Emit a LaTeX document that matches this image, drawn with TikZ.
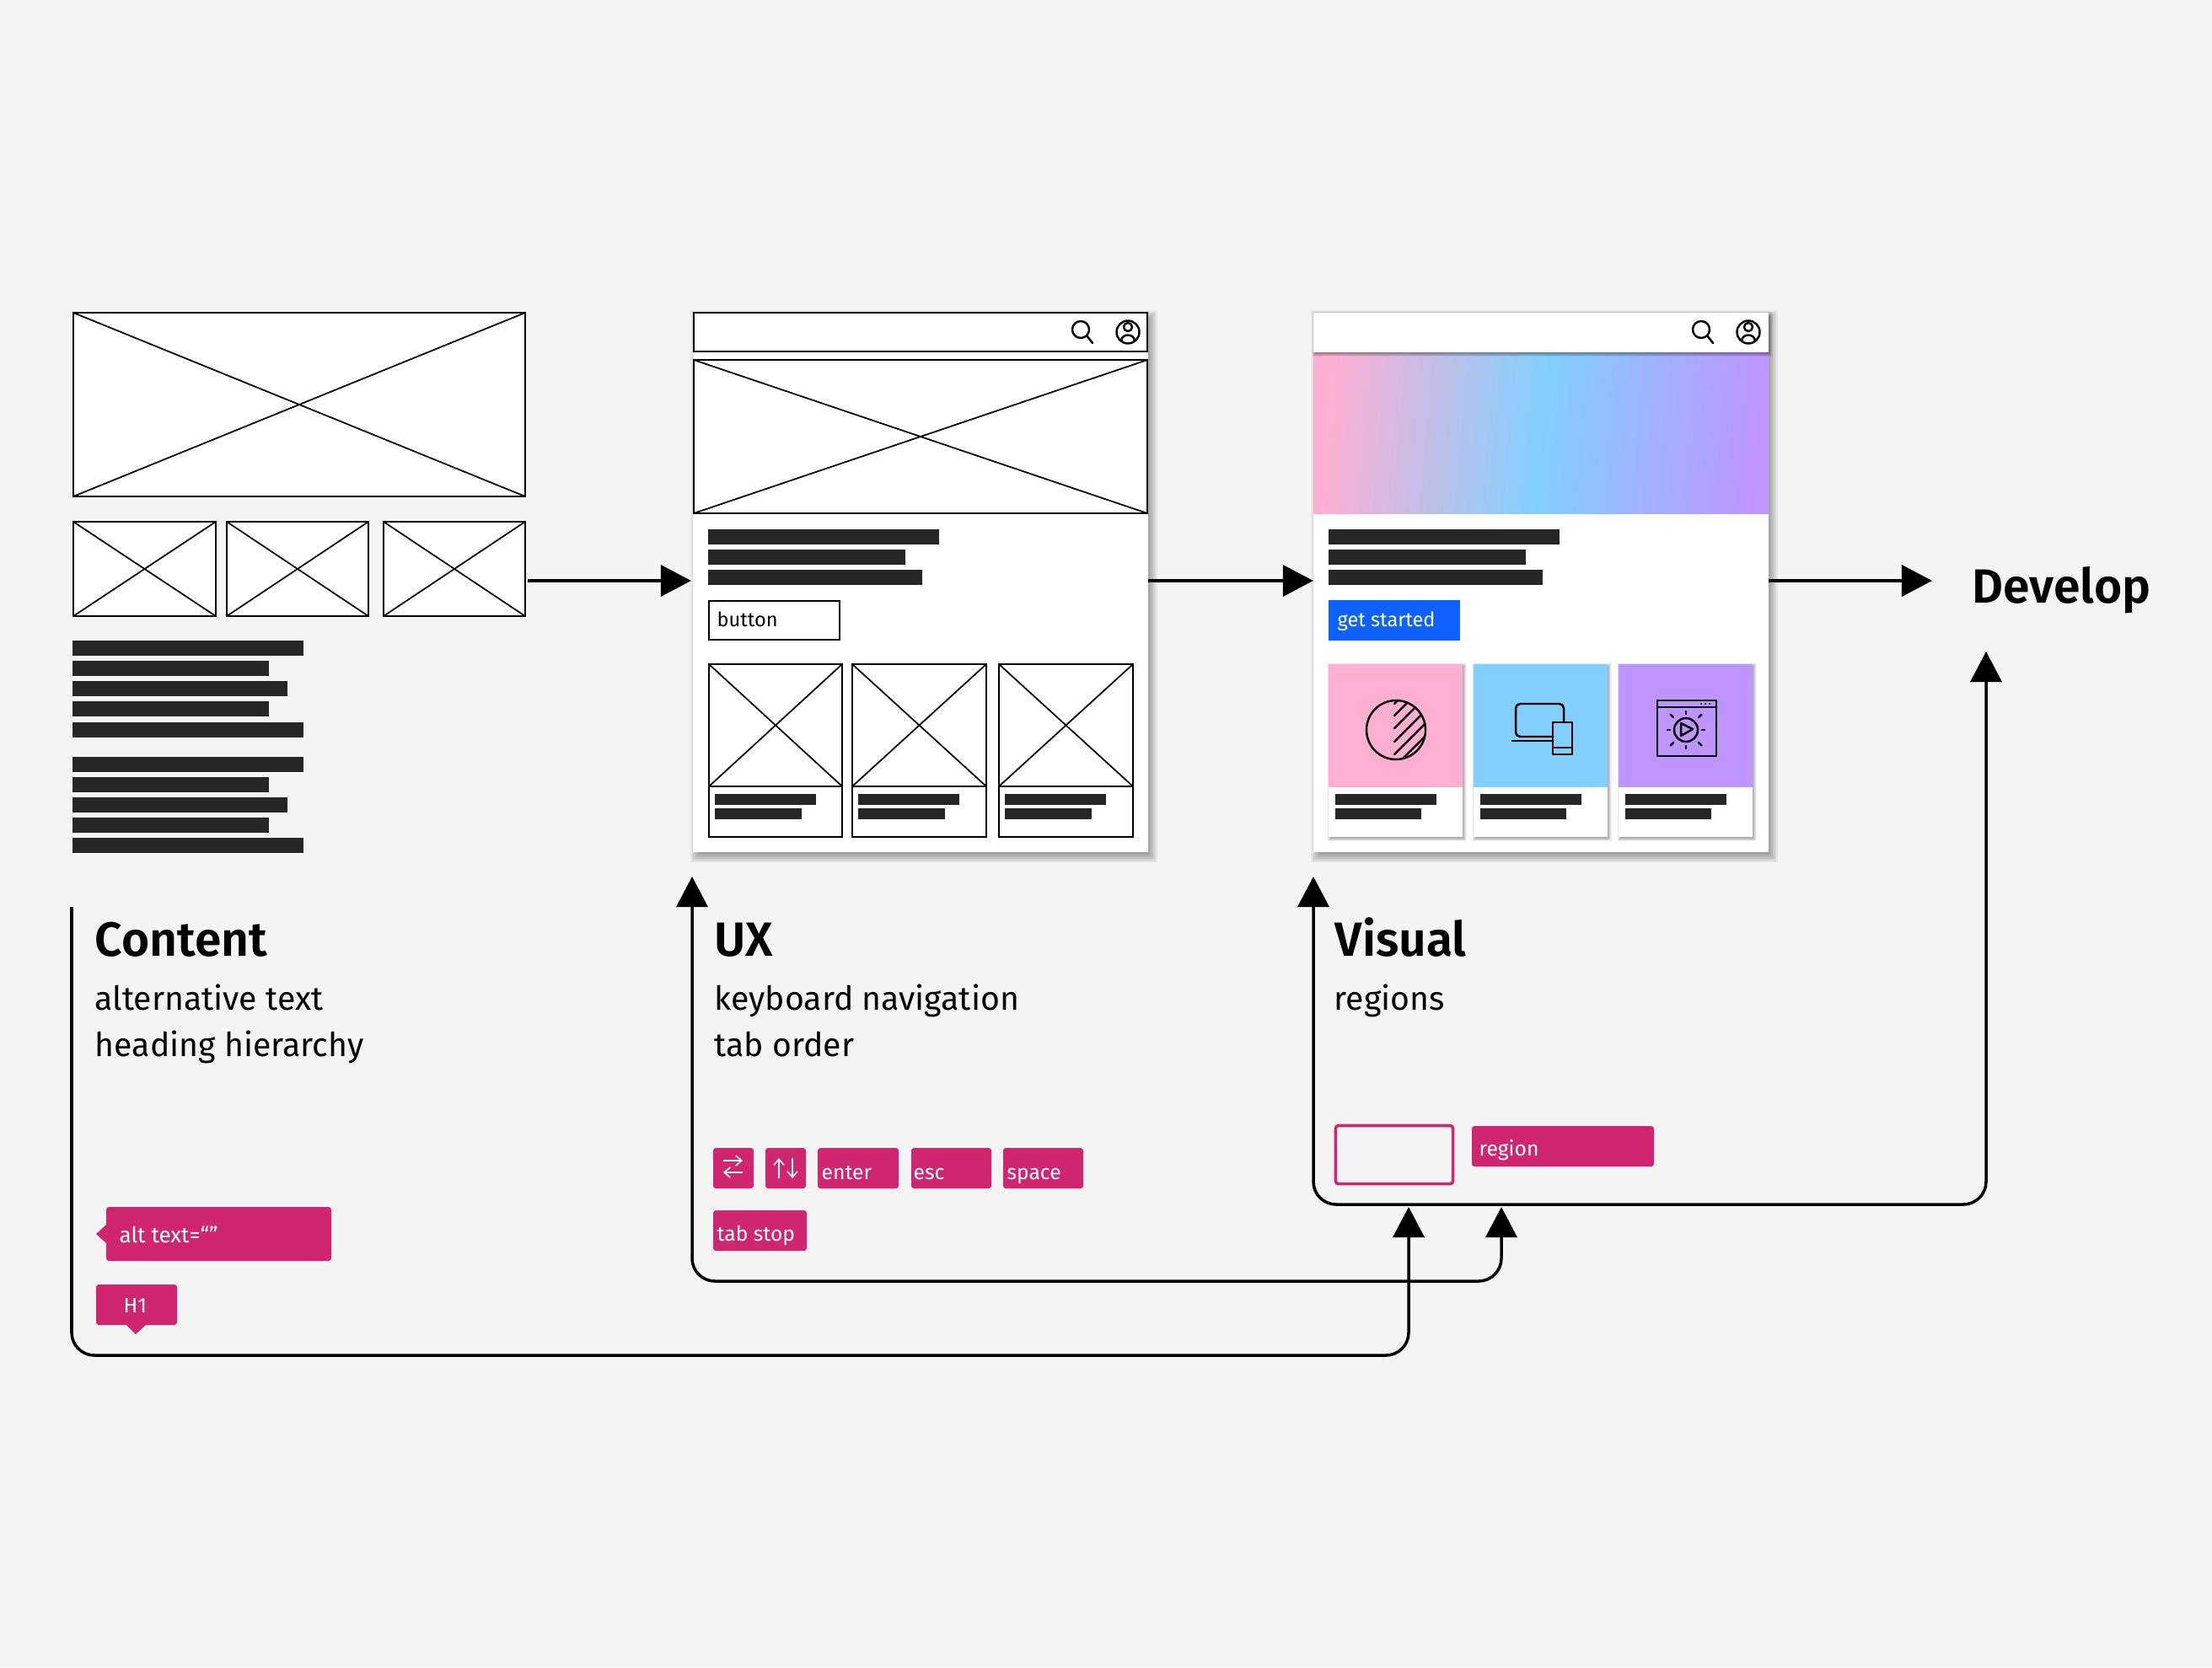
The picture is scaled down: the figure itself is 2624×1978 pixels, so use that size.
\documentclass[tikz,border=0pt]{standalone}
\usepackage{fontspec}
\setmainfont{Fira Sans}[BoldFont={* SemiBold}]
\usetikzlibrary{arrows.meta}

\definecolor{pagegray}{HTML}{F4F4F4}
\definecolor{inkbar}{HTML}{262626}
\definecolor{tagpink}{HTML}{D02670}
\definecolor{btnblue}{HTML}{0F62FE}
\definecolor{cardpink}{HTML}{FFAFD2}
\definecolor{cardcyan}{HTML}{82CFFF}
\definecolor{cardpurple}{HTML}{BE95FF}

\pgfdeclarehorizontalshading{heroshade}{100bp}{color(0bp)=(cardpink); color(25bp)=(cardpink); color(50bp)=(cardcyan); color(75bp)=(cardpurple); color(100bp)=(cardpurple)}

\tikzset{
  flow/.style={line width=1pt,-{Triangle[length=0.36cm,width=0.37cm]}},
  flowboth/.style={flow,{Triangle[length=0.36cm,width=0.37cm]}-{Triangle[length=0.36cm,width=0.37cm]},rounded corners=.27cm},
  wirebox/.style={draw=black,fill=white,line width=.7pt,inner sep=0pt,outer sep=0pt},
  whitebox/.style={fill=white,inner sep=0pt,outer sep=0pt},
  tagbox/.style={fill=tagpink,rounded corners=.9pt,inner sep=0pt,outer sep=0pt},
  heading/.style={anchor=base west,inner sep=0pt,font=\fontsize{16.2}{18}\selectfont\bfseries},
  bodytext/.style={anchor=base west,inner sep=0pt,font=\fontsize{11.15}{13}\selectfont},
  tagtext/.style={anchor=base west,inner sep=0pt,text=white,font=\fontsize{7}{9}\selectfont},
  buttontext/.style={tagtext,font=\fontsize{6.7}{9}\selectfont},
  icon/.style={line width=.7pt,line cap=round,line join=round},
  keyarrow/.style={white,line width=.45pt,-{Straight Barb[length=2pt,width=3.4pt]}}
}

\newcommand{\crossbox}[5]{
  \node[wirebox,minimum width={(#4-#2)*0.01cm},minimum height={(#5-#3)*0.01cm}] (#1) at ({(#2+#4)/2},{(#3+#5)/2}) {};
  \draw[line width=.5pt] (#1.north west) -- (#1.south east) (#1.south west) -- (#1.north east);
}
\newcommand{\softshadow}[5]{
  \foreach \s in {0.125,0.25,0.375,0.5,0.625,0.75,0.875,1}
    \fill[black,opacity=.05] ({#1-(\s-.75)*#5},{#2-(\s-.75)*#5}) rectangle ({#3+(\s-.1)*#5},{#4+\s*#5});
}
\newcommand{\tagnode}[8]{
  \node[tagbox,minimum width={(#4-#2)*0.01cm},minimum height={(#5-#3)*0.01cm}] (#1) at ({(#2+#4)/2},{(#3+#5)/2}) {};
  \node[tagtext] (#1text) at (#6,#7) {#8};
}

\begin{document}
\begin{tikzpicture}[x=0.01cm,y=-0.01cm]
\path[use as bounding box,fill=pagegray] (0,0) rectangle (2624,1978);

\crossbox{contenthero}{87}{371}{623}{589}
\crossbox{contentone}{87}{619}{256}{731}
\crossbox{contenttwo}{269}{619}{437}{731}
\crossbox{contentthree}{455}{619}{623}{731}
\foreach \y/\e in {760/360,784/319,808/341,832/319,857/360,898/360,922/319,946/341,970/319,994/360}
  \fill[inkbar] (86,\y) rectangle (\e,\y+18);

\softshadow{822}{371}{1362}{1011}{12}
\node[whitebox,minimum width=5.4cm,minimum height=6.4cm] (uxpanel) at (1092,691) {};
\node[wirebox,minimum width=5.38cm,minimum height=.46cm] (uxbar) at (1092,394) {};
\crossbox{uxhero}{823}{427}{1361}{609}
\crossbox{uxcardone}{841}{788}{999}{933}
\crossbox{uxcardtwo}{1011}{788}{1170}{933}
\crossbox{uxcardthree}{1185}{788}{1344}{933}
\foreach \x/\w in {841/999,1011/1170,1185/1344}
  \draw[line width=.7pt] (\x,933) rectangle (\w,993);
\foreach \x in {848,1018,1192}{
  \fill[inkbar] (\x,942) rectangle (\x+120,955);
  \fill[inkbar] (\x,959) rectangle (\x+103,972);
}
\node[wirebox,minimum width=1.55cm,minimum height=.46cm] (uxbutton) at (918.5,736) {};
\node[buttontext,text=black] (uxbuttontext) at (850,743) {button};

\softshadow{1558}{371}{2098}{1011}{12}
\node[whitebox,minimum width=5.4cm,minimum height=6.4cm] (visualpanel) at (1828,691) {};
\shade[shading=heroshade,shading angle=-5] (1558,418) rectangle (2098,609);
\softshadow{1558}{371}{2098}{418}{5}
\node[whitebox,minimum width=5.4cm,minimum height=.47cm] (visualbar) at (1828,394.5) {};
\foreach \x/\c in {1576/cardpink,1748/cardcyan,1920/cardpurple}{
  \softshadow{\x}{788}{\x+159}{993}{5}
  \fill[white] (\x,788) rectangle (\x+159,993);
  \fill[\c] (\x,788) rectangle (\x+159,934);
  \fill[inkbar] (\x+8,942) rectangle (\x+128,955);
  \fill[inkbar] (\x+8,959) rectangle (\x+110,972);
}
\foreach \x/\y/\e in {628/646/1850,652/670/1810,676/694/1830}
  \fill[inkbar] (1576,\x) rectangle (\e,\y);
\foreach \x/\y/\e in {628/646/1114,652/670/1074,676/694/1094}
  \fill[inkbar] (840,\x) rectangle (\e,\y);
\node[whitebox,fill=btnblue,minimum width=1.56cm,minimum height=.48cm] (startbutton) at (1654,736) {};
\node[buttontext] (startbuttontext) at (1586,743) {get started};

\foreach \o in {0,736}{
  \draw[icon] (1282+\o,391) circle (10) (1289+\o,398) -- (1296+\o,407);
  \draw[icon] (1338+\o,394) circle (13.5) (1338+\o,388) circle (5);
  \draw[icon] (1330+\o,405) .. controls (1330+\o,395) and (1346+\o,395) .. (1346+\o,405);
}

\draw[icon] (1656,866) circle (35);
\begin{scope}
\clip (1656,866) circle (35);
\foreach \y in {835,849,864,880,895,910}
  \draw[icon] (1654,\y) -- ++(50,-50);
\end{scope}

\draw[icon,rounded corners=1.5pt] (1842,874) -- (1798,874) -- (1798,835) -- (1855,835) -- (1855,857);
\draw[icon] (1794,879) -- (1842,879);
\draw[icon] (1842,857) rectangle (1865,895) (1842,887) -- (1865,887);

\draw[icon] (1966,831) rectangle (2036,897) (1966,839) -- (2036,839);
\foreach \x in {2018,2023,2028}
  \fill (\x,835) circle (1);
\draw[icon] (2000,866) circle (14);
\draw[icon] (1994,858) -- (2008,865) -- (1994,873) -- cycle;
\foreach \a in {0,90,180,270}
  \draw[icon] ({2000+19*cos(\a)},{866+19*sin(\a)}) -- ({2000+22*cos(\a)},{866+22*sin(\a)});
\foreach \a in {45,135,225,315}
  \draw[icon] ({2000+21*cos(\a)},{866+21*sin(\a)}) -- ({2000+26*cos(\a)},{866+26*sin(\a)});

\node[heading] (contenttitle) at (112,1134) {Content};
\node[bodytext] (contentline) at (112,1198) {alternative text};
\node[bodytext] (contentlinetwo) at (112,1253) {heading hierarchy};
\node[heading] (uxtitle) at (847,1134) {UX};
\node[bodytext] (uxline) at (847,1198) {keyboard navigation};
\node[bodytext] (uxlinetwo) at (847,1253) {tab order};
\node[heading] (visualtitle) at (1583,1134) {Visual};
\node[bodytext] (visualline) at (1582,1198) {regions};
\node[heading] (develop) at (2339,715) {Develop};

\fill[tagpink] (126,1453) -- (114,1464) -- (126,1475) -- cycle;
\tagnode{alttag}{126}{1432}{393}{1496}{141}{1474}{\fontsize{7.4}{9}\selectfont alt text=“”}
\fill[tagpink] (150,1572) -- (161,1583) -- (173,1572) -- cycle;
\tagnode{headingtag}{114}{1524}{210}{1572}{146}{1557}{H1}

\tagnode{arrowstag}{846}{1362}{894}{1410}{846}{1399}{}
\tagnode{updowntag}{908}{1362}{956}{1410}{908}{1399}{}
\draw[keyarrow] (858,1377) -- (881,1377);
\draw[keyarrow] (881,1391) -- (858,1391);
\draw[keyarrow] (924,1398) -- (924,1374);
\draw[keyarrow] (940,1374) -- (940,1398);
\tagnode{entertag}{970}{1362}{1066}{1410}{974}{1399}{enter}
\tagnode{esctag}{1081}{1362}{1176}{1410}{1083}{1399}{esc}
\tagnode{spacetag}{1190}{1362}{1285}{1410}{1194}{1399}{space}
\tagnode{tabtag}{846}{1436}{957}{1484}{850}{1472}{tab stop}

\node[draw=tagpink,line width=1pt,rounded corners=.9pt,inner sep=0pt,outer sep=0pt,minimum width=1.39cm,minimum height=.69cm] (regionbox) at (1654,1370) {};
\tagnode{regiontag}{1746}{1336}{1962}{1384}{1754}{1371}{region}

\coordinate (flowrail) at (0,689);
\coordinate (contentstart) at (85,1076);
\coordinate (contentcorner) at (1671,1608);
\coordinate (contentend) at (1671,1432);
\coordinate (uxstart) at (821,1040);
\coordinate (uxcorner) at (1781,1520);
\coordinate (uxend) at (1781,1432);
\coordinate (visualstart) at (1558,1040);
\coordinate (visualcorner) at (2356,1429);
\coordinate (visualend) at (2356,773);

\draw[flow,shorten <=.03cm,shorten >=.02cm] (contentthree.east |- flowrail) -- (uxpanel.west |- flowrail);
\draw[flow] (uxpanel.east |- flowrail) -- (visualpanel.west |- flowrail);
\draw[flow,shorten >=.47cm] (visualpanel.east |- flowrail) -- (develop.west |- flowrail);
\draw[flow,rounded corners=.27cm] (contentstart) |- (contentcorner) -- (contentend);
\draw[flowboth] (uxstart) |- (uxcorner) -- (uxend);
\draw[flowboth] (visualstart) |- (visualcorner) -- (visualend);

\end{tikzpicture}
\end{document}
